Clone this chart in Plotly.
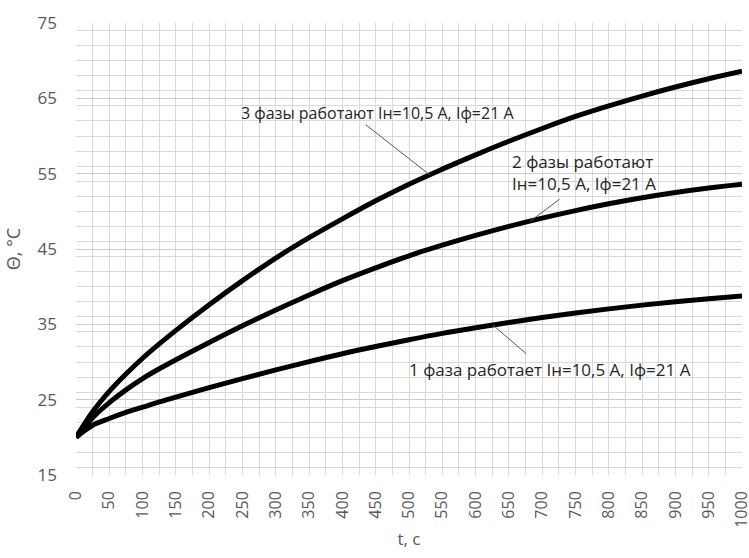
import plotly.graph_objects as go

t = [0, 25, 50, 75, 100, 125, 150, 200, 250, 300, 350, 400, 450, 500,
     550, 600, 650, 700, 750, 800, 850, 900, 950, 1000]

theta_3ph = [20.0, 23.4, 26.1, 28.4, 30.5, 32.4, 34.2, 37.6, 40.8, 43.8, 46.5, 49.0, 51.4, 53.6,
             55.6, 57.5, 59.3, 61.0, 62.6, 64.0, 65.3, 66.5, 67.6, 68.6]
theta_2ph = [20.0, 22.6, 24.6, 26.3, 27.8, 29.1, 30.3, 32.6, 34.8, 36.9, 38.9, 40.8, 42.5, 44.1,
             45.5, 46.8, 48.0, 49.1, 50.1, 51.0, 51.8, 52.5, 53.1, 53.6]
theta_1ph = [20.0, 21.6, 22.5, 23.3, 24.0, 24.7, 25.35, 26.6, 27.8, 28.95, 30.05, 31.1, 32.05, 32.95,
             33.8, 34.55, 35.25, 35.9, 36.5, 37.05, 37.55, 38.0, 38.4, 38.75]

label_3ph = "3 фазы работают Iн=10,5 А, Iф=21 А"
label_2ph = "2 фазы работают<br>Iн=10,5 А, Iф=21 А"
label_1ph = "1 фаза работает Iн=10,5 А, Iф=21 А"

x_title = "t, c"
y_title = "Θ, °С"

FONT = "Open Sans"
GRID = "#d9d9d9"
TXT = "#595959"
ANN = "#262626"

fig = go.Figure()
for ys in (theta_1ph, theta_2ph, theta_3ph):
    fig.add_trace(go.Scatter(x=t, y=ys, mode="lines",
                             line=dict(color="black", width=5, shape="spline"),
                             showlegend=False, hoverinfo="skip"))

# leader lines (annotation callouts)
leaders = [((435, 61.5), (531, 54.85)),
           ((726, 51.6), (682, 48.7)),
           ((676, 31.1), (626, 34.9))]
for (x0, y0), (x1, y1) in leaders:
    fig.add_shape(type="line", x0=x0, y0=y0, x1=x1, y1=y1, xref="x", yref="y",
                  line=dict(color="#595959", width=1))

fig.add_annotation(x=452, y=63.0, text=label_3ph, showarrow=False, xanchor="center", yanchor="middle",
                   font=dict(family=FONT, size=16, color=ANN))
fig.add_annotation(x=651, y=55.2, text=label_2ph, showarrow=False, xanchor="left", yanchor="middle",
                   align="left", font=dict(family=FONT, size=17, color=ANN))
fig.add_annotation(x=711, y=29.0, text=label_1ph, showarrow=False, xanchor="center", yanchor="middle",
                   font=dict(family=FONT, size=17, color=ANN))

fig.update_layout(
    width=749, height=558,
    margin=dict(l=76, r=7, t=23, b=82.5, autoexpand=False),
    paper_bgcolor="white", plot_bgcolor="white",
    font=dict(family=FONT, color=TXT, size=16),
)
fig.update_xaxes(
    range=[0, 1000], tick0=0, dtick=50, tickangle=-90,
    showgrid=True, gridcolor=GRID, gridwidth=1,
    minor=dict(dtick=25, showgrid=True, gridcolor=GRID, gridwidth=1),
    zeroline=False, showline=False, ticks="", automargin=False,
    ticklabelstandoff=12, ticklabeloverflow="allow",
    tickfont=dict(family=FONT, size=16, color=TXT),
    title=dict(text=x_title, font=dict(family=FONT, size=17, color=TXT), standoff=6),
)
fig.update_yaxes(
    range=[15, 75], tick0=15, dtick=10,
    showgrid=True, gridcolor="#cccccc", gridwidth=1,
    minor=dict(dtick=2, showgrid=True, gridcolor=GRID, gridwidth=1),
    zeroline=False, showline=False, ticks="", automargin=False,
    ticklabelstandoff=18, ticklabeloverflow="allow",
    tickfont=dict(family=FONT, size=17, color=TXT),
    title=dict(text=y_title, font=dict(family=FONT, size=18, color=TXT), standoff=12),
)

# remove the page's default 8px body margin so the figure fills the window exactly
fig.write_html("out.html", config={"displayModeBar": False},
               post_script="document.body.style.margin='0';document.body.style.overflow='hidden';")
